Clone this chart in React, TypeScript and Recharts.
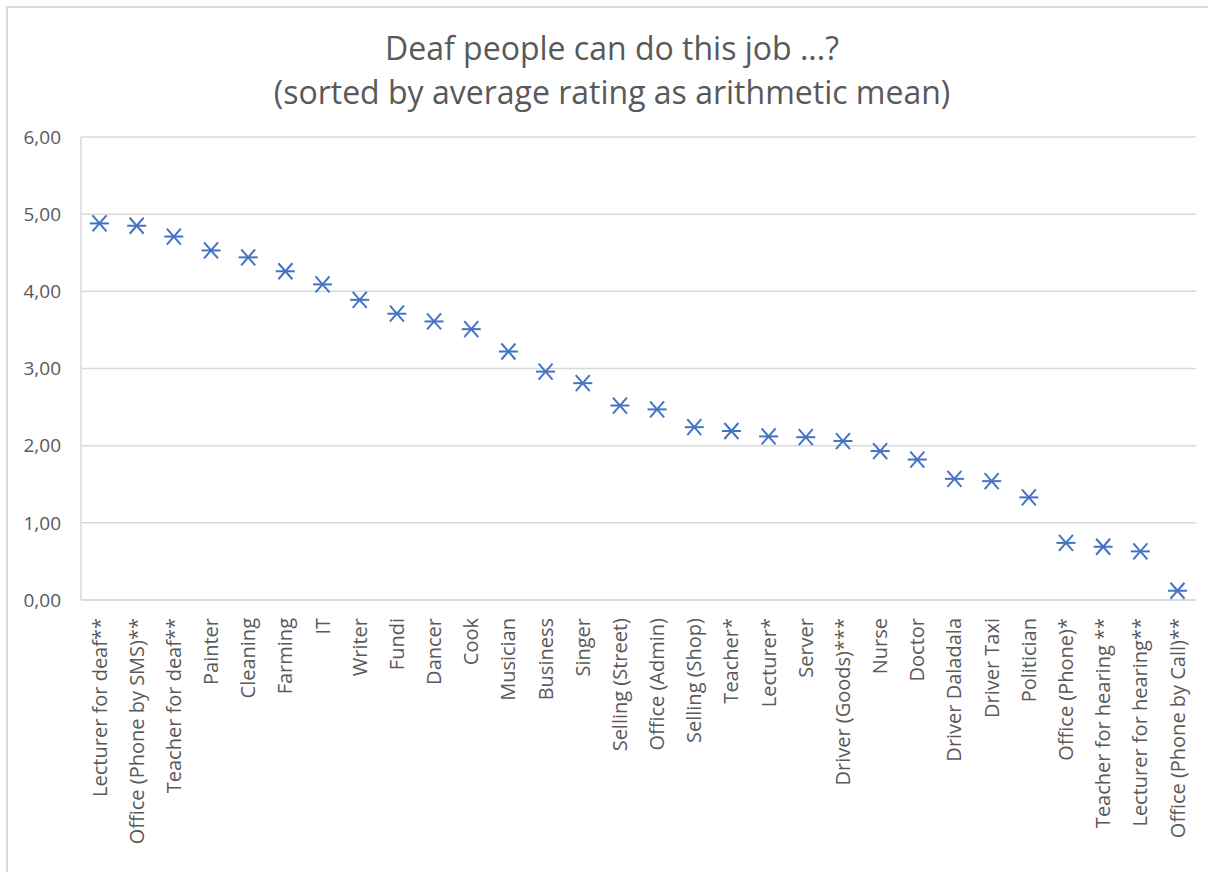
import React from "react";
import { LineChart, Line, XAxis, YAxis, CartesianGrid } from "recharts";

const jobs = [
  "Lecturer for deaf**",
  "Office (Phone by SMS)**",
  "Teacher for deaf**",
  "Painter",
  "Cleaning",
  "Farming",
  "IT",
  "Writer",
  "Fundi",
  "Dancer",
  "Cook",
  "Musician",
  "Business",
  "Singer",
  "Selling (Street)",
  "Office (Admin)",
  "Selling (Shop)",
  "Teacher*",
  "Lecturer*",
  "Server",
  "Driver (Goods)***",
  "Nurse",
  "Doctor",
  "Driver Daladala",
  "Driver Taxi",
  "Politician",
  "Office (Phone)*",
  "Teacher for hearing **",
  "Lecturer for hearing**",
  "Office (Phone by Call)**",
];

const ratings = [
  4.88, 4.85, 4.71, 4.53, 4.44, 4.26, 4.09, 3.89, 3.71, 3.61, 3.51, 3.22, 2.96, 2.81, 2.52,
  2.47, 2.24, 2.19, 2.12, 2.11, 2.06, 1.93, 1.82, 1.57, 1.54, 1.33, 0.74, 0.69, 0.63, 0.12,
];

const yTicks = [0, 1, 2, 3, 4, 5, 6];

const titleLines = ["Deaf people can do this job ...?", "(sorted by average rating as arithmetic mean)"];

const data = jobs.map((job, i) => ({ job, rating: ratings[i] }));

const FONT = "'Open Sans', sans-serif";
const TEXT = "#595959";
const GRID = "#d9d9d9";
const BLUE = "#4472C4";

const StarDot = (props: any) => {
  const { cx, cy, index } = props;
  if (cx == null || cy == null) return null;
  const w = 9.5;
  const h = 8;
  return (
    <g key={`dot-${index}`} stroke={BLUE} strokeWidth={2}>
      <line x1={cx - w} y1={cy} x2={cx + w} y2={cy} />
      <line x1={cx - 7} y1={cy - h} x2={cx + 7} y2={cy + h} />
      <line x1={cx - 7} y1={cy + h} x2={cx + 7} y2={cy - h} />
    </g>
  );
};

const JobTick = ({ x, y, payload }: any) => (
  <g transform={`translate(${x},${y})`}>
    <text transform="rotate(-90)" x={-10} y={0} dy="0.35em" textAnchor="end" fill={TEXT} fontSize={20} fontFamily={FONT}>
      {payload.value}
    </text>
  </g>
);

export default function App() {
  return (
    <div style={{ position: "absolute", left: 0, top: 0, width: 1208, height: 872, background: "#fff", overflow: "hidden" }}>
      <div
        style={{
          position: "absolute",
          left: 6,
          top: 6,
          width: 1202,
          height: 866,
          borderLeft: `2px solid ${GRID}`,
          borderTop: `2px solid ${GRID}`,
          boxSizing: "border-box",
        }}
      />
      <div
        style={{
          position: "absolute",
          left: 112,
          width: 1000,
          top: 26,
          textAlign: "center",
          fontFamily: FONT,
          fontSize: 32,
          lineHeight: "44px",
          color: TEXT,
        }}
      >
        {titleLines.map((t) => (
          <div key={t}>{t}</div>
        ))}
      </div>
      <div style={{ position: "absolute", left: 6, top: 6 }}>
        <LineChart width={1202} height={866} data={data} margin={{ top: 131, right: 12, left: 15, bottom: 0 }}>
          <CartesianGrid vertical={false} stroke={GRID} strokeWidth={1.5} />
          <XAxis
            dataKey="job"
            interval={0}
            height={272}
            padding={{ left: 18.5, right: 18.5 }}
            tick={<JobTick />}
            tickLine={false}
            axisLine={{ stroke: GRID, strokeWidth: 1.5 }}
          />
          <YAxis
            domain={[0, 6]}
            ticks={yTicks}
            width={60}
            tickLine={false}
            axisLine={{ stroke: GRID, strokeWidth: 1.5 }}
            tickFormatter={(v: number) => v.toFixed(2).replace(".", ",")}
            tick={{ fill: TEXT, fontSize: 19, fontFamily: FONT }}
            tickMargin={14}
          />
          <Line
            dataKey="rating"
            stroke="none"
            dot={<StarDot />}
            activeDot={false}
            isAnimationActive={false}
          />
        </LineChart>
      </div>
    </div>
  );
}
